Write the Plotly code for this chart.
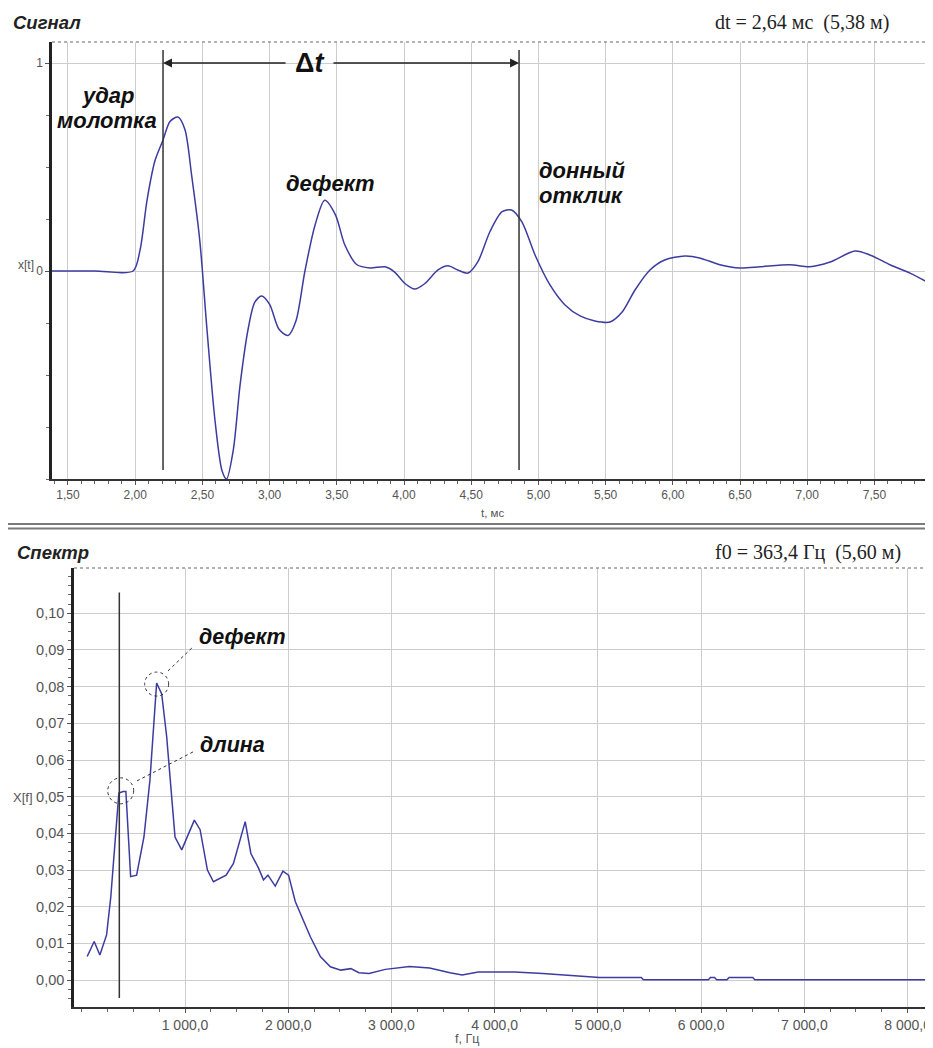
import plotly.graph_objects as go

# ---------------- data ----------------
# Signal x[t], t in ms
sig_t = [1.38, 1.70, 1.984, 2.036, 2.088, 2.147, 2.207, 2.26, 2.318, 2.37, 2.42, 2.48, 2.534,
         2.594, 2.646, 2.68, 2.73, 2.78, 2.84, 2.89, 2.94, 3.00, 3.07, 3.137, 3.196, 3.263,
         3.338, 3.41, 3.49, 3.56, 3.65, 3.747, 3.86, 3.93, 4.007, 4.08, 4.156, 4.253, 4.327,
         4.40, 4.476, 4.55, 4.64, 4.73, 4.80, 4.878, 4.975, 5.086, 5.198, 5.31, 5.42, 5.533,
         5.62, 5.72, 5.83, 5.94, 6.09, 6.20, 6.35, 6.50, 6.65, 6.87, 7.02, 7.17, 7.356, 7.467,
         7.616, 7.765, 7.94]
sig_x = [0.0, 0.0, 0.0, 0.10, 0.34, 0.53, 0.63, 0.72, 0.74, 0.68, 0.46, 0.15, -0.28,
         -0.72, -0.96, -1.0, -0.86, -0.55, -0.28, -0.15, -0.12, -0.16, -0.28, -0.31, -0.24, 0.0,
         0.22, 0.34, 0.27, 0.125, 0.03, 0.015, 0.02, -0.005, -0.06, -0.087, -0.06, 0.005, 0.025,
         0.005, -0.01, 0.045, 0.19, 0.285, 0.293, 0.235, 0.077, -0.067, -0.163, -0.216, -0.24, -0.245,
         -0.20, -0.09, 0.005, 0.053, 0.072, 0.063, 0.03, 0.014, 0.02, 0.03, 0.02, 0.043, 0.096, 0.077,
         0.03, -0.01, -0.07]

# Spectrum X[f], f in Hz
spec_f = [52, 120, 175, 240, 281, 343, 359, 401, 427, 473, 531, 602, 660, 725, 774, 822, 903, 968,
          1090, 1146, 1217, 1275, 1398, 1469, 1583, 1638, 1712, 1760, 1803, 1874, 1948, 2003,
          2068, 2214, 2311, 2408, 2509, 2607, 2684, 2783, 2940, 3175, 3369, 3567, 3685, 3841,
          4037, 4194, 4466, 4781, 5016, 5420, 5440, 6070, 6090, 6130, 6150, 6250, 6270, 6500,
          6520, 8250]
spec_v = [0.0064, 0.0105, 0.0068, 0.0123, 0.0227, 0.0441, 0.0510, 0.0514, 0.0514, 0.0282, 0.0286,
          0.0390, 0.0545, 0.0810, 0.0780, 0.0664, 0.0390, 0.0355, 0.0436, 0.0410, 0.0300, 0.0268,
          0.0286, 0.0318, 0.0432, 0.0345, 0.0305, 0.0273, 0.0286, 0.0256, 0.0297, 0.0286, 0.0214,
          0.0118, 0.0064, 0.0036, 0.0027, 0.0031, 0.0020, 0.0018, 0.0029, 0.0037, 0.0033, 0.0020,
          0.0014, 0.0022, 0.0022, 0.0022, 0.0018, 0.0011, 0.0007, 0.0007, 0.0001, 0.0001, 0.0007,
          0.0007, 0.0001, 0.0001, 0.0007, 0.0007, 0.0001, 0.0001]

t_ticks = [1.5, 2.0, 2.5, 3.0, 3.5, 4.0, 4.5, 5.0, 5.5, 6.0, 6.5, 7.0, 7.5]
t_labels = ["1,50", "2,00", "2,50", "3,00", "3,50", "4,00", "4,50", "5,00", "5,50", "6,00",
            "6,50", "7,00", "7,50"]
xt_ticks = [0, 1]
xt_labels = ["0", "1"]
f_ticks = [1000, 2000, 3000, 4000, 5000, 6000, 7000, 8000]
f_labels = ["1 000,0", "2 000,0", "3 000,0", "4 000,0", "5 000,0", "6 000,0", "7 000,0", "8 000,0"]
xf_ticks = [0.00, 0.01, 0.02, 0.03, 0.04, 0.05, 0.06, 0.07, 0.08, 0.09, 0.10]
xf_labels = ["0,00", "0,01", "0,02", "0,03", "0,04", "0,05", "0,06", "0,07", "0,08", "0,09", "0,10"]

markers_t = [2.207, 4.856]   # hammer strike and bottom response
marker_f0 = 363.4
peak_defect = (725, 0.0807)
peak_length = (377, 0.0516)

# ---------------- layout helpers ----------------
OFF = 8                     # page body margin
W, H = 933 - OFF, 1048 - OFF
def px(x):
    return (x - OFF) / W
def py(y):
    return 1 - (y - OFF) / H

CURVE = "#3c3ca0"
GRID = "#cdcdcd"
TICKC = "#555555"
SANS = "Liberation Sans, Arial, sans-serif"
SERIF = "Liberation Serif, Times New Roman, serif"

fig = go.Figure()
fig.add_trace(go.Scatter(x=sig_t, y=sig_x, mode="lines", xaxis="x", yaxis="y",
                         line=dict(color=CURVE, width=1.5, shape="spline", smoothing=0.8),
                         showlegend=False, hoverinfo="skip"))
fig.add_trace(go.Scatter(x=spec_f, y=spec_v, mode="lines", xaxis="x2", yaxis="y2",
                         line=dict(color=CURVE, width=1.5), showlegend=False, hoverinfo="skip"))

axis_common = dict(showgrid=True, gridcolor=GRID, gridwidth=1, zeroline=False, showline=True,
                   ticks="outside", mirror=False)

fig.update_layout(
    width=W, height=H, margin=dict(l=0, r=0, t=0, b=0),
    paper_bgcolor="white", plot_bgcolor="white", showlegend=False,
    xaxis=dict(domain=[px(52), 1.0], anchor="y", range=[1.381, 7.936],
               tickmode="array", tickvals=t_ticks, ticktext=t_labels,
               tickfont=dict(family=SANS, size=12, color=TICKC),
               linecolor="#333333", linewidth=2, ticklen=4, tickcolor="#555",
               minor=dict(dtick=0.1, ticklen=3, ticks="outside", tickcolor="#666", showgrid=False),
               **axis_common),
    yaxis=dict(domain=[py(479), py(42)], anchor="x", range=[-1.0, 1.101],
               tickmode="array", tickvals=xt_ticks, ticktext=xt_labels,
               tickfont=dict(family=SANS, size=12, color=TICKC),
               linecolor="#222222", linewidth=2.5, ticklen=4, tickcolor="#555",
               minor=dict(dtick=0.25, ticklen=3, ticks="outside", tickcolor="#666", showgrid=False),
               **axis_common),
    xaxis2=dict(domain=[px(74), 1.0], anchor="y2", range=[-75.6, 8246],
                tickmode="array", tickvals=f_ticks, ticktext=f_labels,
                tickfont=dict(family=SANS, size=14, color=TICKC),
                linecolor="#333333", linewidth=2, ticklen=4, tickcolor="#555",
                minor=dict(dtick=250, ticklen=3, ticks="outside", tickcolor="#666", showgrid=False),
                **axis_common),
    yaxis2=dict(domain=[py(1007), py(568)], anchor="x2", range=[-0.00736, 0.11236],
                tickmode="array", tickvals=xf_ticks, ticktext=xf_labels,
                tickfont=dict(family=SANS, size=14.5, color=TICKC),
                linecolor="#222222", linewidth=2.5, ticklen=4, tickcolor="#555",
                minor=dict(dtick=0.0025, ticklen=3, ticks="outside", tickcolor="#666", showgrid=False),
                **axis_common),
)

shapes = []
# dashed top borders of both panels
for ytop, xl in [(42, 52), (568, 74)]:
    shapes.append(dict(type="line", xref="paper", yref="paper", x0=px(xl), x1=1, y0=py(ytop), y1=py(ytop),
                       line=dict(color="#999999", width=1.5, dash="dot")))
# double separator between panels
for ys in (524, 528.5):
    shapes.append(dict(type="line", xref="paper", yref="paper", x0=px(8), x1=1, y0=py(ys), y1=py(ys),
                       line=dict(color="#7a7a7a", width=2)))
# marker lines on signal
for mt in markers_t:
    shapes.append(dict(type="line", xref="x", yref="y", x0=mt, x1=mt, y0=-0.957, y1=1.0625,
                       line=dict(color="#333333", width=1.5)))
# f0 marker on spectrum
shapes.append(dict(type="line", xref="x2", yref="y2", x0=marker_f0, x1=marker_f0, y0=-0.0049, y1=0.1057,
                   line=dict(color="#333333", width=1.5)))
# circles around peaks (radius ~12 px)
rx, ry = 12 / 0.10323, 12 / 3667.0
for (cf, cv), k in [(peak_defect, 1.0), (peak_length, 1.08)]:
    shapes.append(dict(type="circle", xref="x2", yref="y2", x0=cf - rx * k, x1=cf + rx * k,
                       y0=cv - ry * k, y1=cv + ry * k, line=dict(color="#333333", width=1, dash="dot")))
# leader lines
shapes.append(dict(type="line", xref="x2", yref="y2", x0=835, y0=0.0843, x1=1087, y1=0.0911,
                   line=dict(color="#333333", width=1, dash="dot")))
shapes.append(dict(type="line", xref="x2", yref="y2", x0=535, y0=0.0543, x1=1077, y1=0.0622,
                   line=dict(color="#333333", width=1, dash="dot")))
fig.update_layout(shapes=shapes)

LABEL_TOP = dict(family=SANS, size=22, color="#111111")
LABEL_BOT = dict(family=SANS, size=21.5, color="#111111")
ann = []
def paper_text(x, y, text, font, xanchor="left"):
    ann.append(dict(xref="paper", yref="paper", x=px(x), y=py(y), xanchor=xanchor, yanchor="middle",
                    text=text, showarrow=False, font=font))
# headers
paper_text(11, 23, "<b><i>Сигнал</i></b>", dict(family=SANS, size=18.5, color="#222"))
paper_text(891, 23, "dt = 2,64 мс  (5,38 м)", dict(family=SERIF, size=20, color="#222"), "right")
paper_text(15, 552, "<b><i>Спектр</i></b>", dict(family=SANS, size=18.5, color="#222"))
paper_text(903, 552, "f0 = 363,4 Гц  (5,60 м)", dict(family=SERIF, size=20, color="#222"), "right")
# axis titles
paper_text(492, 513, "t, мс", dict(family=SANS, size=11.5, color=TICKC), "center")
paper_text(26, 265, "x[t]", dict(family=SANS, size=12, color=TICKC), "center")
paper_text(23, 797, "X[f]", dict(family=SANS, size=13, color=TICKC), "center")
paper_text(467, 1039, "f, Гц", dict(family=SANS, size=12.5, color=TICKC), "center")

# delta t arrows
ann.append(dict(xref="x", yref="y", axref="x", ayref="y", x=markers_t[0], y=1.0, ax=3.13, ay=1.0,
                text="", showarrow=True, arrowhead=2, arrowsize=1.2, arrowwidth=1.5, arrowcolor="#222"))
ann.append(dict(xref="x", yref="y", axref="x", ayref="y", x=markers_t[1], y=1.0, ax=3.464, ay=1.0,
                text="", showarrow=True, arrowhead=2, arrowsize=1.2, arrowwidth=1.5, arrowcolor="#222"))
ann.append(dict(xref="x", yref="y", x=3.30, y=1.0, xanchor="center", yanchor="middle",
                text="<b>Δ<i>t</i></b>", showarrow=False, font=dict(family=SANS, size=27, color="#111")))

def data_text(xref, yref, x, y, text, font, xanchor="center"):
    ann.append(dict(xref=xref, yref=yref, x=x, y=y, xanchor=xanchor, yanchor="middle",
                    text="<b><i>" + text + "</i></b>", showarrow=False, font=font))
# signal labels (one annotation per line for tight spacing)
data_text("x", "y", 1.80, 0.846, "удар", LABEL_TOP)
data_text("x", "y", 1.79, 0.726, "молотка", LABEL_TOP)
data_text("x", "y", 3.45, 0.423, "дефект", LABEL_TOP)
data_text("x", "y", 4.99, 0.481, "донный", LABEL_TOP, "left")
data_text("x", "y", 4.99, 0.361, "отклик", LABEL_TOP, "left")
# spectrum labels
data_text("x2", "y2", 1116, 0.0935, "дефект", LABEL_BOT, "left")
data_text("x2", "y2", 1126, 0.0641, "длина", LABEL_BOT, "left")
fig.update_layout(annotations=ann)

fig.write_html("out.html")
